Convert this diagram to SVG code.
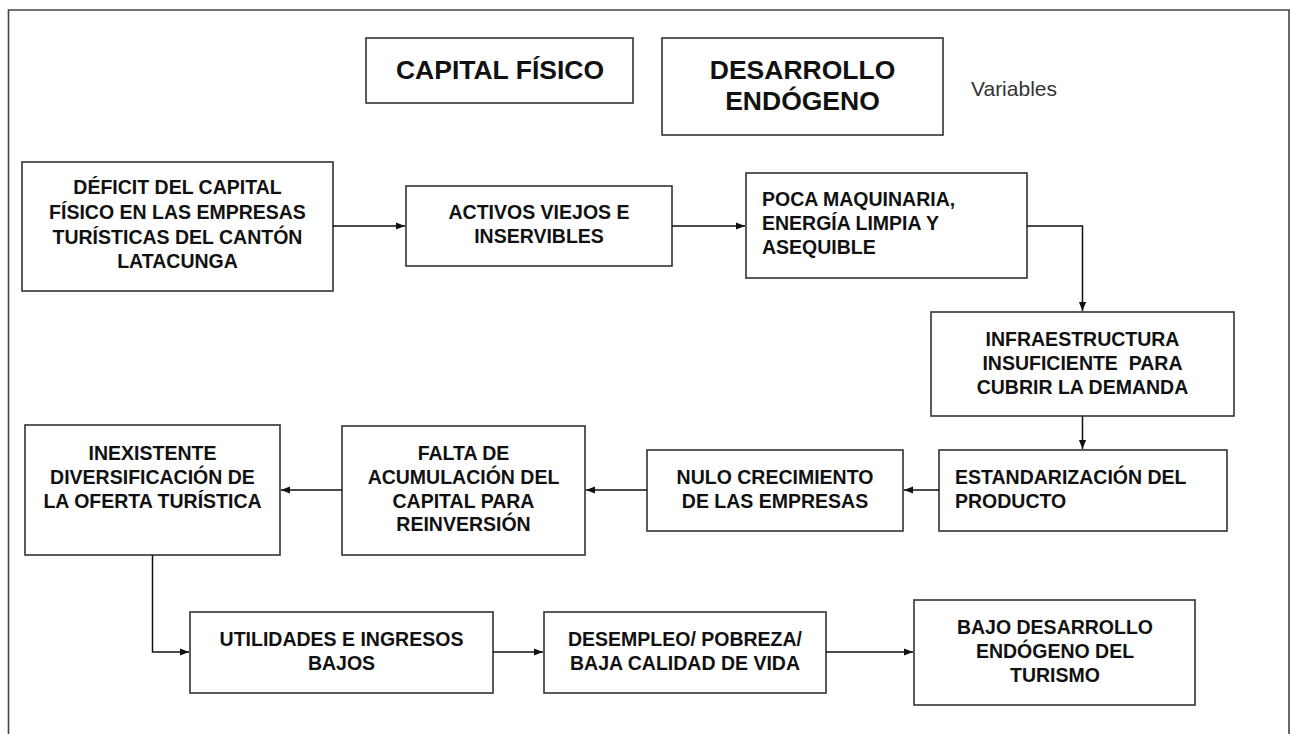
<svg xmlns="http://www.w3.org/2000/svg" width="1293" height="734" viewBox="0 0 1293 734">
<defs>
<style>
.box{fill:#fff;stroke:#333;stroke-width:1.6}
.t{font-family:"Liberation Sans",Arial,sans-serif;font-weight:bold;font-size:19.5px;fill:#111}
.c{text-anchor:middle}
.big{font-size:26.5px}
.var{font-family:"Liberation Sans",Arial,sans-serif;font-size:21px;fill:#333}
.con{fill:none;stroke:#111;stroke-width:1.5}
</style>
<marker id="ah" viewBox="0 0 10 10" refX="10" refY="5" markerWidth="9" markerHeight="9" markerUnits="userSpaceOnUse" orient="auto">
<path d="M0,1 L10,5 L0,9 z" fill="#111"/>
</marker>
</defs>
<rect width="1293" height="734" fill="#fff"/>
<path d="M8.5,740 V10 H1289 V740" fill="none" stroke="#444" stroke-width="1.6"/>

<g id="capital-fisico">
<rect class="box" x="366" y="38" width="267" height="65"/>
<text class="t c big" x="500" y="79">CAPITAL FÍSICO</text>
</g>
<g id="desarrollo-endogeno">
<rect class="box" x="662" y="38" width="281" height="97"/>
<text class="t c big" x="802.5" y="79">DESARROLLO</text>
<text class="t c big" x="802.5" y="110">ENDÓGENO</text>
</g>
<g id="variables">
<text class="var" x="971" y="96">Variables</text>
</g>

<g id="deficit">
<rect class="box" x="22" y="162" width="311" height="129"/>
<text class="t c" x="177.5" y="194">DÉFICIT DEL CAPITAL</text>
<text class="t c" x="177.5" y="219">FÍSICO EN LAS EMPRESAS</text>
<text class="t c" x="177.5" y="243.5">TURÍSTICAS DEL CANTÓN</text>
<text class="t c" x="177.5" y="267.5">LATACUNGA</text>
</g>
<g id="activos">
<rect class="box" x="406" y="186" width="266" height="80"/>
<text class="t c" x="539" y="219">ACTIVOS VIEJOS E</text>
<text class="t c" x="539" y="243">INSERVIBLES</text>
</g>
<g id="poca">
<rect class="box" x="746" y="173" width="281" height="105"/>
<text class="t" x="762" y="206">POCA MAQUINARIA,</text>
<text class="t" x="762" y="230">ENERGÍA LIMPIA Y</text>
<text class="t" x="762" y="254">ASEQUIBLE</text>
</g>
<g id="infraestructura">
<rect class="box" x="931" y="312" width="303" height="104"/>
<text class="t c" x="1082.5" y="345.5">INFRAESTRUCTURA</text>
<text class="t c" x="1082.5" y="369.5" xml:space="preserve">INSUFICIENTE  PARA</text>
<text class="t c" x="1082.5" y="393.5">CUBRIR LA DEMANDA</text>
</g>
<g id="estandarizacion">
<rect class="box" x="939" y="450" width="288" height="81"/>
<text class="t" x="955" y="483.5">ESTANDARIZACIÓN DEL</text>
<text class="t" x="955" y="507.5">PRODUCTO</text>
</g>
<g id="nulo">
<rect class="box" x="647" y="450" width="256" height="81"/>
<text class="t c" x="775" y="483.5">NULO CRECIMIENTO</text>
<text class="t c" x="775" y="507.5">DE LAS EMPRESAS</text>
</g>
<g id="falta">
<rect class="box" x="342" y="426" width="243" height="129"/>
<text class="t c" x="463.5" y="459.5">FALTA DE</text>
<text class="t c" x="463.5" y="483.5">ACUMULACIÓN DEL</text>
<text class="t c" x="463.5" y="507.5">CAPITAL PARA</text>
<text class="t c" x="463.5" y="531">REINVERSIÓN</text>
</g>
<g id="inexistente">
<rect class="box" x="25" y="425" width="255" height="130"/>
<text class="t c" x="152.5" y="459.5">INEXISTENTE</text>
<text class="t c" x="152.5" y="483.5">DIVERSIFICACIÓN DE</text>
<text class="t c" x="152.5" y="507.5">LA OFERTA TURÍSTICA</text>
</g>
<g id="utilidades">
<rect class="box" x="190" y="612" width="303" height="81"/>
<text class="t c" x="341.5" y="646">UTILIDADES E INGRESOS</text>
<text class="t c" x="341.5" y="670">BAJOS</text>
</g>
<g id="desempleo">
<rect class="box" x="544" y="612" width="282" height="81"/>
<text class="t c" x="685" y="646">DESEMPLEO/ POBREZA/</text>
<text class="t c" x="685" y="670">BAJA CALIDAD DE VIDA</text>
</g>
<g id="bajo">
<rect class="box" x="914" y="600" width="281" height="105"/>
<text class="t c" x="1055" y="634">BAJO DESARROLLO</text>
<text class="t c" x="1055" y="658">ENDÓGENO DEL</text>
<text class="t c" x="1055" y="682">TURISMO</text>
</g>

<g id="connectors">
<path class="con" d="M333,226 H405" marker-end="url(#ah)"/>
<path class="con" d="M672,226 H745" marker-end="url(#ah)"/>
<path class="con" d="M1027,226 H1082.5 V311" marker-end="url(#ah)"/>
<path class="con" d="M1082.5,416 V449" marker-end="url(#ah)"/>
<path class="con" d="M939,490 H904" marker-end="url(#ah)"/>
<path class="con" d="M647,490 H586" marker-end="url(#ah)"/>
<path class="con" d="M342,490 H281" marker-end="url(#ah)"/>
<path class="con" d="M152.5,555 V652 H189" marker-end="url(#ah)"/>
<path class="con" d="M493,652 H543" marker-end="url(#ah)"/>
<path class="con" d="M826,652 H913" marker-end="url(#ah)"/>
</g>
</svg>
